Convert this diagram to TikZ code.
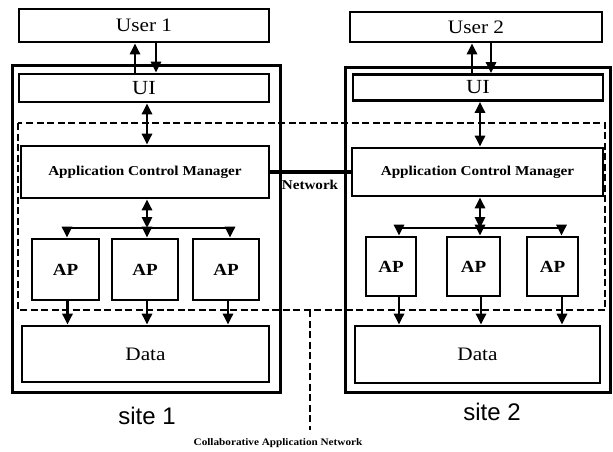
\documentclass[tikz,border=0pt]{standalone}
\usepackage{fontspec}
\setmainfont{Liberation Serif}[FakeStretch=1.12]
\setsansfont{Liberation Sans}
\usetikzlibrary{arrows.meta}
\tikzset{
  box/.style={draw, line width=2.7pt, inner sep=0pt, align=center},
  sitebox/.style={draw, line width=3pt, inner sep=0pt},
  bigtxt/.style={font=\fontsize{19}{21}\selectfont},
  uitxt/.style={font=\fontsize{20}{22}\selectfont},
  acmtxt/.style={font=\fontsize{13.6}{15}\selectfont\bfseries},
  aptxt/.style={font=\fontsize{17}{19}\selectfont\bfseries},
  sitetxt/.style={font=\fontsize{24}{26}\selectfont\sffamily},
  smalltxt/.style={font=\fontsize{10}{12}\selectfont\bfseries},
  nettxt/.style={font=\fontsize{13.5}{15}\selectfont\bfseries},
  tip/.tip={Triangle[length=11pt,width=10pt]},
  lnk/.style={line width=2.8pt, -tip},
  lnkboth/.style={line width=2.8pt, tip-tip},
  bus/.style={line width=2.8pt},
  grp/.style={line width=2.4pt, dash pattern=on 7pt off 3.5pt},
  netline/.style={line width=4.5pt},
}
\begin{document}
\begin{tikzpicture}[x=1pt, y=-1pt]
\useasboundingbox (0,0) rectangle (613,452);

% ---------- site 1 ----------
\node[sitebox, minimum width=268pt, minimum height=326pt] (site1box) at (146,229) {};
\node[box, bigtxt, minimum width=250pt, minimum height=33pt] (user1) at (144,25.5) {User 1};
\node[box, uitxt, minimum width=250pt, minimum height=28pt] (ui1) at (144,88) {UI};
\node[box, acmtxt, minimum width=248pt, minimum height=52pt] (acm1) at (145,172) {Application Control Manager};
\node[box, aptxt, minimum width=67pt, minimum height=61pt] (ap11) at (65.5,269.5) {AP};
\node[box, aptxt, minimum width=66pt, minimum height=61pt] (ap12) at (145,269.5) {AP};
\node[box, aptxt, minimum width=66pt, minimum height=61pt] (ap13) at (226,269.5) {AP};
\node[box, bigtxt, minimum width=247pt, minimum height=56pt] (data1) at (145.5,354) {Data};
\node[sitetxt] (site1lbl) at (147,416) {site 1};

% ---------- site 2 ----------
\node[sitebox, minimum width=265pt, minimum height=324pt] (site2box) at (477.5,230) {};
\node[box, bigtxt, minimum width=252pt, minimum height=30pt] (user2) at (476,27) {User 2};
\node[box, uitxt, minimum width=250pt, minimum height=26pt] (ui2) at (478,87.5) {UI};
\node[box, acmtxt, minimum width=251pt, minimum height=48pt] (acm2) at (477.5,172) {Application Control Manager};
\node[box, aptxt, minimum width=50pt, minimum height=59pt] (ap21) at (391,266.5) {AP};
\node[box, aptxt, minimum width=53pt, minimum height=59pt] (ap22) at (473.5,266.5) {AP};
\node[box, aptxt, minimum width=51pt, minimum height=59pt] (ap23) at (552.5,266.5) {AP};
\node[box, bigtxt, minimum width=245pt, minimum height=57pt] (data2) at (477.5,354.5) {Data};
\node[sitetxt] (site2lbl) at (492,412) {site 2};

% ---------- collaborative application network ----------
\coordinate (grpA) at (18,123);
\coordinate (grpB) at (605,310);
\draw[grp] (grpA) rectangle (grpB);
\coordinate (canTop) at (310,310);
\coordinate (canEnd) at (310,430);
\draw[grp, line width=2pt] (canTop) -- (canEnd);
\node[smalltxt] (canlbl) at (278,443) {Collaborative Application Network};

% ---------- network link ----------
\draw[netline] (acm1.east) -- (acm2.west);
\node[nettxt] (netlbl) at (310,185) {Network};

% ---------- site 1 connectors ----------
\draw[lnk] ([xshift=-9pt]ui1.north) -- ([xshift=-9pt]ui1.north |- user1.south);
\draw[lnk] ([xshift=12pt]user1.south) -- ([xshift=12pt]user1.south |- ui1.north);
\draw[lnkboth] ([xshift=3pt]ui1.south) -- ([xshift=3pt]ui1.south |- acm1.north);
\coordinate (bar1) at (147,228);
\draw[lnkboth] (acm1.south -| bar1) -- (bar1);
\draw[bus] ([xshift=1.5pt]bar1 -| ap11.north) -- ([xshift=4pt]bar1 -| ap13.north);
\draw[lnk] ([xshift=1.5pt]bar1 -| ap11.north) -- ([xshift=1.5pt]ap11.north);
\draw[lnk] (bar1) -- (bar1 |- ap12.north);
\draw[lnk] ([xshift=4pt]bar1 -| ap13.north) -- ([xshift=4pt]ap13.north);
\draw[lnk] ([xshift=2pt]ap11.south) -- ([xshift=2pt]ap11.south |- data1.north);
\draw[lnk] ([xshift=2pt]ap12.south) -- ([xshift=2pt]ap12.south |- data1.north);
\draw[lnk] ([xshift=2pt]ap13.south) -- ([xshift=2pt]ap13.south |- data1.north);

% ---------- site 2 connectors ----------
\draw[lnk] ([xshift=-6pt]ui2.north) -- ([xshift=-6pt]ui2.north |- user2.south);
\draw[lnk] ([xshift=15pt]user2.south) -- ([xshift=15pt]user2.south |- ui2.north);
\draw[lnkboth] ([xshift=2pt]ui2.south) -- ([xshift=2pt]ui2.south |- acm2.north);
\coordinate (bar2) at (480,228);
\draw[lnkboth] (acm2.south -| bar2) -- (bar2);
\draw[bus] ([xshift=8pt]bar2 -| ap21.north) -- ([xshift=9pt]bar2 -| ap23.north);
\draw[lnk] ([xshift=8pt]bar2 -| ap21.north) -- ([xshift=8pt]ap21.north);
\draw[lnk] (bar2) -- (bar2 |- ap22.north);
\draw[lnk] ([xshift=9pt]bar2 -| ap23.north) -- ([xshift=9pt]ap23.north);
\draw[lnk] ([xshift=8pt]ap21.south) -- ([xshift=8pt]ap21.south |- data2.north);
\draw[lnk] ([xshift=7.5pt]ap22.south) -- ([xshift=7.5pt]ap22.south |- data2.north);
\draw[lnk] ([xshift=9.5pt]ap23.south) -- ([xshift=9.5pt]ap23.south |- data2.north);
\end{tikzpicture}
\end{document}
